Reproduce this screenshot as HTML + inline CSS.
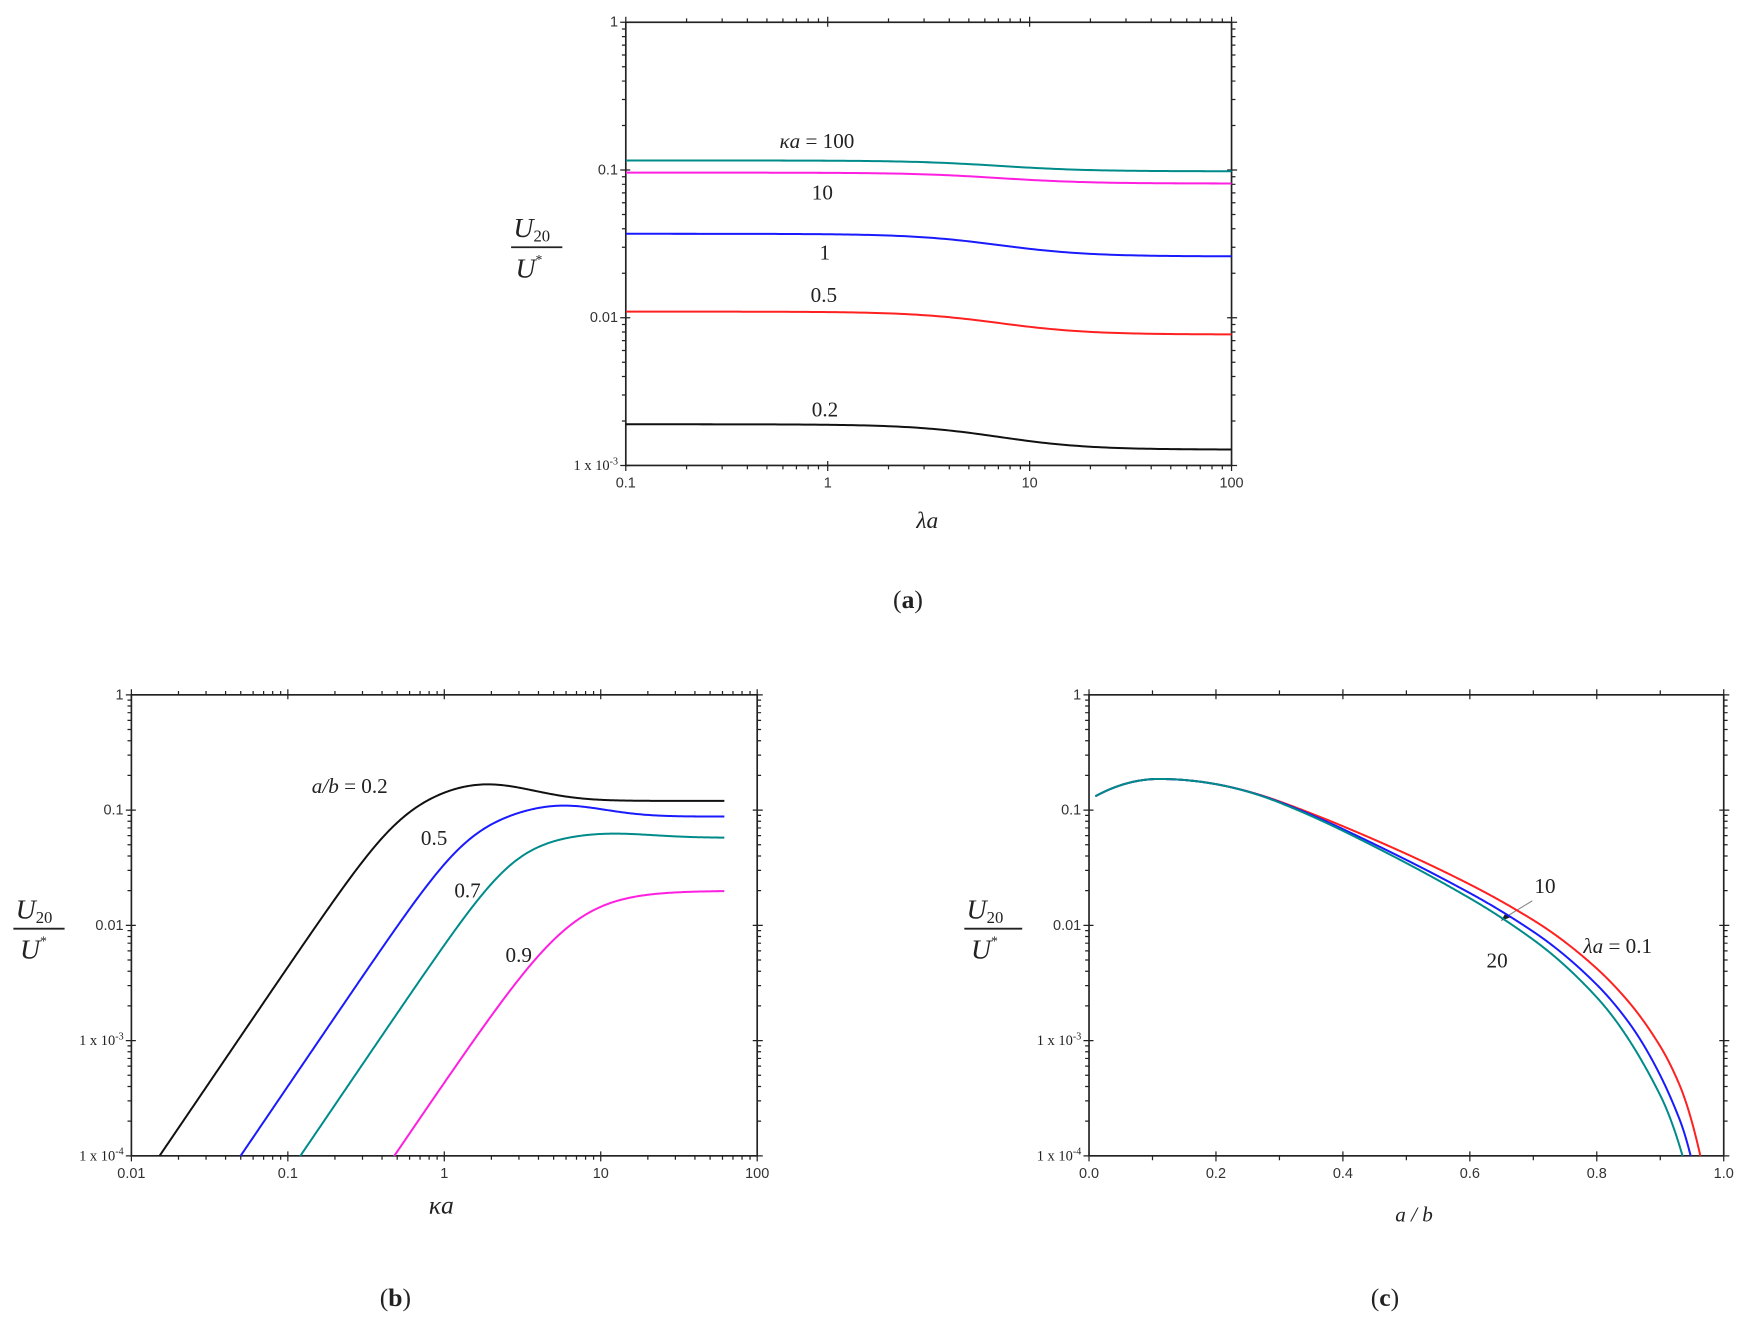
<!DOCTYPE html>
<html><head><meta charset="utf-8"><style>
html,body{margin:0;padding:0;background:#fff;}
svg{display:block;}
.tk{font-family:"Liberation Sans",Arial,sans-serif;font-size:13px;fill:#333;}
.sf{font-family:"Liberation Serif","Times New Roman",serif;fill:#222;}
</style></head><body>
<svg id="s" width="1746" height="1330" viewBox="0 0 1568 1194.4" xmlns="http://www.w3.org/2000/svg">
<rect width="1568" height="1194.4" fill="#fff"/>
<text class="sf" x="700" y="133" font-size="19"><tspan font-style="italic">κa</tspan> = 100</text>
<text class="sf" x="729" y="179" font-size="19">10</text>
<text class="sf" x="736" y="233" font-size="19">1</text>
<text class="sf" x="728" y="271" font-size="19">0.5</text>
<text class="sf" x="729" y="374" font-size="19">0.2</text>
<text class="sf" x="823" y="474" font-size="21" font-style="italic">λa</text>
<text class="sf" x="802" y="546" font-size="23">(<tspan font-weight="bold">a</tspan>)</text>
<text class="sf" x="461" y="213" font-size="25" font-style="italic">U<tspan font-style="normal" font-size="15" dy="4">20</tspan></text>
<line x1="459" y1="222" x2="505" y2="222" stroke="#222" stroke-width="1.6"/>
<text class="sf" x="463" y="249" font-size="25" font-style="italic">U<tspan font-style="normal" font-size="12" dy="-12">*</tspan></text>
<text class="sf" x="280" y="712" font-size="19"><tspan font-style="italic">a/b</tspan> = 0.2</text>
<text class="sf" x="378" y="759" font-size="19">0.5</text>
<text class="sf" x="408" y="806" font-size="19">0.7</text>
<text class="sf" x="454" y="864" font-size="19">0.9</text>
<text class="sf" x="385" y="1090" font-size="23" font-style="italic">κa</text>
<text class="sf" x="341" y="1173" font-size="23">(<tspan font-weight="bold">b</tspan>)</text>
<text class="sf" x="14" y="825" font-size="25" font-style="italic">U<tspan font-style="normal" font-size="15" dy="4">20</tspan></text>
<line x1="12" y1="834" x2="58" y2="834" stroke="#222" stroke-width="1.6"/>
<text class="sf" x="18" y="861" font-size="25" font-style="italic">U<tspan font-style="normal" font-size="12" dy="-12">*</tspan></text>
<text class="sf" x="1378" y="802" font-size="19">10</text>
<line x1="1376" y1="809" x2="1350" y2="825" stroke="#888" stroke-width="1"/>
<polygon points="1348,827 1352,820 1356,824" fill="#222"/>
<text class="sf" x="1422" y="856" font-size="19"><tspan font-style="italic">λa</tspan> = 0.1</text>
<text class="sf" x="1335" y="869" font-size="19">20</text>
<text class="sf" x="1253" y="1097" font-size="19" font-style="italic" fill="#444">a / b</text>
<text class="sf" x="1231" y="1173" font-size="23">(<tspan font-weight="bold">c</tspan>)</text>
<text class="sf" x="868" y="825" font-size="25" font-style="italic">U<tspan font-style="normal" font-size="15" dy="4">20</tspan></text>
<line x1="866" y1="834" x2="918" y2="834" stroke="#222" stroke-width="1.6"/>
<text class="sf" x="872" y="861" font-size="25" font-style="italic">U<tspan font-style="normal" font-size="12" dy="-12">*</tspan></text>
</svg>
<script>
(function(){
var svg=document.getElementById('s'),NS='http://www.w3.org/2000/svg';
function el(t,a,txt){var e=document.createElementNS(NS,t);for(var k in a)e.setAttribute(k,a[k]);if(txt!=null)e.textContent=txt;svg.appendChild(e);return e;}
function L10(v){return Math.log(v)/Math.LN10;}
var cnt=0;
function panel(p){
  var L=p.L,T=p.T,R=p.R,B=p.B;
  p.X=function(v){var u=p.xlog?L10(v):v;return L+(u-p.xmin)/(p.xmax-p.xmin)*(R-L);};
  p.Y=function(v){var u=L10(v);return B-(u-p.ymin)/(p.ymax-p.ymin)*(B-T);};
  var d='';
  function tk(x1,y1,x2,y2){d+='M'+x1+' '+y1+'L'+x2+' '+y2;}
  for(var e=p.ymin;e<=p.ymax;e++){
    var y=B-(e-p.ymin)/(p.ymax-p.ymin)*(B-T);
    tk(L-5,y,L+4,y);tk(R-4,y,R+5,y);
    if(e<p.ymax)for(var m=2;m<10;m++){var yy=B-(e+L10(m)-p.ymin)/(p.ymax-p.ymin)*(B-T);tk(L-3.5,yy,L,yy);tk(R,yy,R+3.5,yy);}
  }
  if(p.xlog){
    for(var e=p.xmin;e<=p.xmax;e++){
      var x=L+(e-p.xmin)/(p.xmax-p.xmin)*(R-L);
      tk(x,B-4,x,B+5);tk(x,T-5,x,T+4);
      if(e<p.xmax)for(var m=2;m<10;m++){var xx=L+(e+L10(m)-p.xmin)/(p.xmax-p.xmin)*(R-L);tk(xx,B,xx,B+3.5);tk(xx,T-3.5,xx,T);}
    }
  }else{
    for(var i=0;i<=10;i++){var x=L+i/10*(R-L);var maj=i%2==0;
      if(maj){tk(x,B-4,x,B+5);tk(x,T-5,x,T+4);}else{tk(x,B,x,B+4);tk(x,T-4,x,T);}}
  }
  el('path',{d:d,stroke:'#222','stroke-width':1.1,fill:'none'});
  el('rect',{x:L,y:T,width:R-L,height:B-T,fill:'none',stroke:'#222','stroke-width':1.5});
  for(var e=p.ymin;e<=p.ymax;e++){
    var y=B-(e-p.ymin)/(p.ymax-p.ymin)*(B-T);
    if(e>=-2){el('text',{'class':'tk',x:L-7,y:y+4,'text-anchor':'end'},e==0?'1':e==-1?'0.1':'0.01');}
    else{var t=el('text',{'class':'sf',x:L-7,y:y+4,'text-anchor':'end','font-size':13,fill:'#444'});
      var a=document.createElementNS(NS,'tspan');a.textContent='1 x 10';t.appendChild(a);
      var b=document.createElementNS(NS,'tspan');b.setAttribute('font-size','9');b.setAttribute('dy','-5');b.textContent=(e==-3?'-3':'-4');t.appendChild(b);}
  }
  for(var i=0;i<p.xl.length;i++){
    var x=L+i/(p.xl.length-1)*(R-L);
    el('text',{'class':'tk',x:x,y:B+20,'text-anchor':'middle'},p.xl[i]);
  }
  var cid='clp'+(cnt++);
  var cp=el('clipPath',{id:cid});var r=document.createElementNS(NS,'rect');
  r.setAttribute('x',L);r.setAttribute('y',T);r.setAttribute('width',R-L);r.setAttribute('height',B-T);cp.appendChild(r);
  p.clip='url(#'+cid+')';
  return p;
}
function line(p,pts,col){var d='';pts.forEach(function(q,i){d+=(i?'L':'M')+q[0].toFixed(2)+' '+q[1].toFixed(2);});
  el('path',{d:d,stroke:col,'stroke-width':1.8,fill:'none','clip-path':p.clip,'stroke-linejoin':'round'});}
var TEAL='#008b8b',MAG='#ff1fe0',BLUE='#1a1aff',RED='#ff2020',BLK='#111';
var a=panel({L:562,T:20,R:1106,B:418,xlog:true,xmin:-1,xmax:2,ymin:-3,ymax:0,xl:['0.1','1','10','100']});
[[0.116,0.098,TEAL],[0.096,0.081,MAG],[0.037,0.026,BLUE],[0.011,0.0077,RED],[0.0019,0.00128,BLK]].forEach(function(c){
  var pts=[];for(var u=-1;u<=2.0001;u+=0.02){var s=1/(1+Math.exp(-(u-0.85)/0.22));
    var lv=L10(c[0])+(L10(c[1])-L10(c[0]))*s;pts.push([a.X(Math.pow(10,u)),a.Y(Math.pow(10,lv))]);}
  line(a,pts,c[2]);});
var b=panel({L:118,T:624,R:680,B:1038,xlog:true,xmin:-2,xmax:2,ymin:-4,ymax:0,xl:['0.01','0.1','1','10','100']});
[[-0.92,-0.28,2.0,3,0.15,0.25,0.45,BLK,-1.9],[-1.056,0.17,2.0,3,0.1,0.74,0.4,BLUE,-1.4],[-1.24,0.46,2.0,3,0.04,1.04,0.4,TEAL,-1.0],[-1.7,0.83,2.0,2.2,0.0,1.3,0.4,MAG,-0.4]].forEach(function(c){
  var pts=[];for(var u=c[8];u<=1.7901;u+=0.01){
    var lv=c[0]-(c[2]/c[3])*L10(1+Math.pow(10,c[3]*(c[1]-u)))+c[4]*Math.exp(-Math.pow((u-c[5])/c[6],2));
    pts.push([b.X(Math.pow(10,u)),b.Y(Math.pow(10,lv))]);}
  line(b,pts,c[7]);});
var c=panel({L:978,T:624,R:1548,B:1038,xlog:false,xmin:0,xmax:1,ymin:-4,ymax:0,xl:['0.0','0.2','0.4','0.6','0.8','1.0']});
function integ(nodes,col){
  // nodes: [x, slope]; start at x=0.01, y=-0.88
  var pts=[],x=0.01,y=-0.88,h=0.001,xe=nodes[nodes.length-1][0];
  function sl(x){for(var i=0;i<nodes.length-1;i++){if(x<=nodes[i+1][0]){var t=(x-nodes[i][0])/(nodes[i+1][0]-nodes[i][0]);return nodes[i][1]+t*(nodes[i+1][1]-nodes[i][1]);}}return nodes[nodes.length-1][1];}
  pts.push([c.X(x),c.Y(Math.pow(10,y))]);
  while(x<xe+0.02){y+=sl(x+h/2)*h;x+=h;pts.push([c.X(x),c.Y(Math.pow(10,y))]);if(y<-4.3)break;}
  line(c,pts,col);
}
var head=[[0.01,3],[0.11,0],[0.2,-1.0]];
integ(head.concat([[0.3,-2.0],[0.4,-2.3],[0.5,-2.5],[0.6,-2.8],[0.7,-3.4],[0.8,-5],[0.85,-6.5],[0.9,-9],[0.93,-13],[0.965,-25]]),RED);
integ(head.concat([[0.3,-2.1],[0.4,-2.6],[0.5,-2.75],[0.6,-3.0],[0.7,-3.7],[0.8,-5.5],[0.85,-7.5],[0.9,-11],[0.93,-14],[0.952,-24]]),BLUE);
integ(head.concat([[0.3,-2.2],[0.4,-2.7],[0.5,-2.9],[0.6,-3.2],[0.7,-4.0],[0.8,-6],[0.85,-8.5],[0.9,-11],[0.94,-20]]),TEAL);
})();
</script>
</body></html>
